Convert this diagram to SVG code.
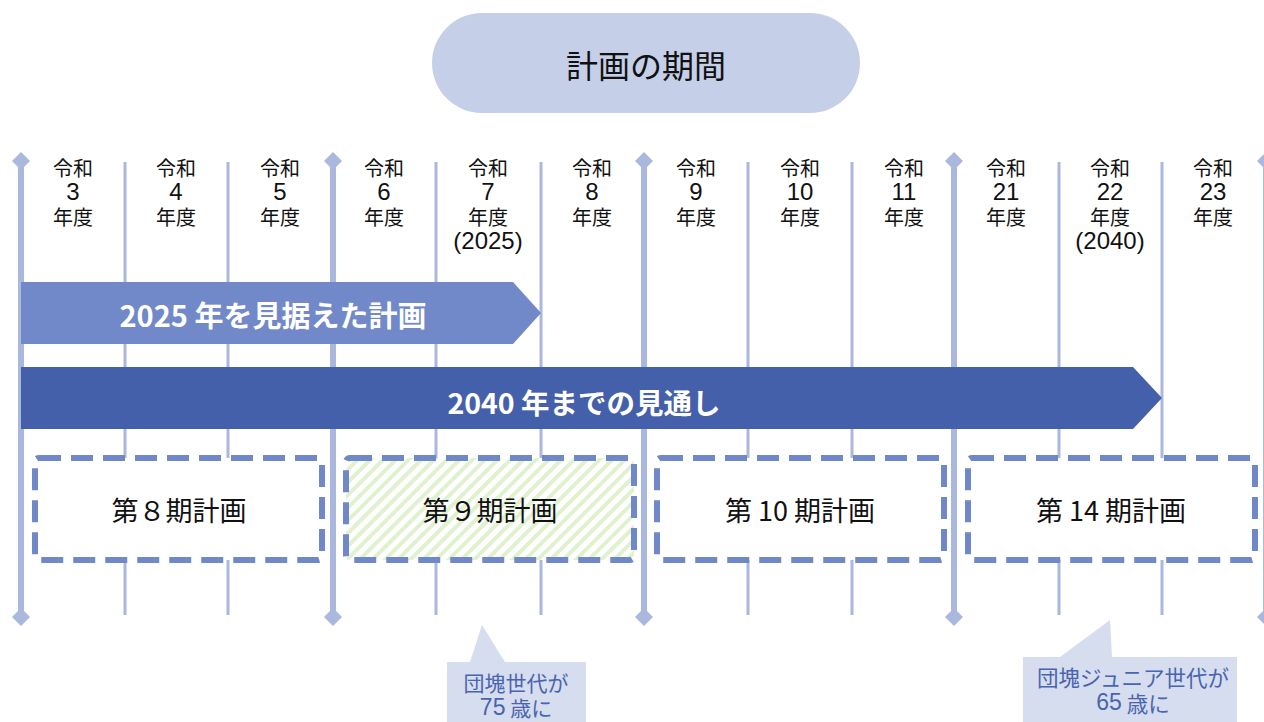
<svg xmlns="http://www.w3.org/2000/svg" width="1264" height="722" viewBox="0 0 1264 722">
<style>
  text { font-family: "Noto Sans CJK JP", "Noto Sans", sans-serif; dominant-baseline: central; text-anchor: middle; }
  .yr { font-size: 20px; fill: #111; }
  .num { font-family: "Liberation Sans", Arial, sans-serif; font-size: 24px; }
  .bar { font-weight: bold; fill: #fff; }
  .plan { font-size: 27px; fill: #111; }
  .call { font-size: 21px; fill: #4a64b0; }
  .cnum { font-family: "Liberation Sans", Arial, sans-serif; font-size: 23px; }
  .thick { stroke: #aab8de; stroke-width: 6; }
  .thin { stroke: #aab8de; stroke-width: 3; }
  .dia { fill: #aab8de; }
  .dash { fill: #fff; stroke: #7088c8; stroke-width: 6; stroke-dasharray: 22 10; }
</style>
<defs>
  <pattern id="hatch" patternUnits="userSpaceOnUse" width="9" height="9" patternTransform="rotate(45)">
    <rect width="9" height="9" fill="#fff"/>
    <rect width="4" height="9" fill="#e0f1cf"/>
  </pattern>
</defs>
<rect width="1264" height="722" fill="#fff"/>

<g id="title">
  <rect x="432" y="13" width="428" height="100" rx="50" fill="#c5cfe8"/>
  <text x="646" y="64" style="font-size:32px;fill:#111">計画の期間</text>
</g>

<g id="connectors">
  <line class="thin" x1="125" y1="162" x2="125" y2="615"/>
  <line class="thin" x1="228" y1="162" x2="228" y2="615"/>
  <line class="thin" x1="436" y1="162" x2="436" y2="615"/>
  <line class="thin" x1="541" y1="162" x2="541" y2="615"/>
  <line class="thin" x1="748" y1="162" x2="748" y2="615"/>
  <line class="thin" x1="852" y1="162" x2="852" y2="615"/>
  <line class="thin" x1="1059" y1="162" x2="1059" y2="615"/>
  <line class="thin" x1="1162" y1="162" x2="1162" y2="615"/>
  <line class="thick" x1="21" y1="160" x2="21" y2="617"/>
  <line class="thick" x1="333" y1="160" x2="333" y2="617"/>
  <line class="thick" x1="644" y1="160" x2="644" y2="617"/>
  <line class="thick" x1="954" y1="160" x2="954" y2="617"/>
  <line class="thick" x1="1266" y1="160" x2="1266" y2="617"/>
  <polygon class="dia" points="21,152 30,161 21,170 12,161"/>
  <polygon class="dia" points="333,152 342,161 333,170 324,161"/>
  <polygon class="dia" points="644,152 653,161 644,170 635,161"/>
  <polygon class="dia" points="954,152 963,161 954,170 945,161"/>
  <polygon class="dia" points="1266,152 1275,161 1266,170 1257,161"/>
  <polygon class="dia" points="21,608 30,617 21,626 12,617"/>
  <polygon class="dia" points="333,608 342,617 333,626 324,617"/>
  <polygon class="dia" points="644,608 653,617 644,626 635,617"/>
  <polygon class="dia" points="954,608 963,617 954,626 945,617"/>
  <polygon class="dia" points="1266,608 1275,617 1266,626 1257,617"/>
</g>

<g id="years" class="yr">
  <text x="73" y="167">令和<tspan class="num" x="73" dy="24">3</tspan><tspan x="73" dy="25">年度</tspan></text>
  <text x="176" y="167">令和<tspan class="num" x="176" dy="24">4</tspan><tspan x="176" dy="25">年度</tspan></text>
  <text x="280" y="167">令和<tspan class="num" x="280" dy="24">5</tspan><tspan x="280" dy="25">年度</tspan></text>
  <text x="384" y="167">令和<tspan class="num" x="384" dy="24">6</tspan><tspan x="384" dy="25">年度</tspan></text>
  <text x="488" y="167">令和<tspan class="num" x="488" dy="24">7</tspan><tspan x="488" dy="25">年度</tspan><tspan class="num" x="488" dy="24">(2025)</tspan></text>
  <text x="592" y="167">令和<tspan class="num" x="592" dy="24">8</tspan><tspan x="592" dy="25">年度</tspan></text>
  <text x="696" y="167">令和<tspan class="num" x="696" dy="24">9</tspan><tspan x="696" dy="25">年度</tspan></text>
  <text x="800" y="167">令和<tspan class="num" x="800" dy="24">10</tspan><tspan x="800" dy="25">年度</tspan></text>
  <text x="904" y="167">令和<tspan class="num" x="904" dy="24">11</tspan><tspan x="904" dy="25">年度</tspan></text>
  <text x="1006" y="167">令和<tspan class="num" x="1006" dy="24">21</tspan><tspan x="1006" dy="25">年度</tspan></text>
  <text x="1110" y="167">令和<tspan class="num" x="1110" dy="24">22</tspan><tspan x="1110" dy="25">年度</tspan><tspan class="num" x="1110" dy="24">(2040)</tspan></text>
  <text x="1213" y="167">令和<tspan class="num" x="1213" dy="24">23</tspan><tspan x="1213" dy="25">年度</tspan></text>
</g>

<g id="bar2025">
  <polygon points="21,282 513,282 541,313 513,344 21,344" fill="#7189c8"/>
  <text class="bar" x="273" y="314" style="font-size:29px">2025 年を見据えた計画</text>
</g>

<g id="bar2040">
  <polygon points="21,367 1133,367 1162,398 1133,429 21,429" fill="#4560aa"/>
  <text class="bar" x="584" y="401" style="font-size:28.5px">2040 年までの見通し</text>
</g>

<g id="plan8">
  <rect class="dash" x="35" y="458" width="287" height="102" rx="4"/>
  <text class="plan" x="179" y="509">第８期計画</text>
</g>
<g id="plan9">
  <rect class="dash" x="346" y="458" width="288" height="102" rx="4" style="fill:url(#hatch)"/>
  <text class="plan" x="490" y="509">第９期計画</text>
</g>
<g id="plan10">
  <rect class="dash" x="657" y="458" width="287" height="102" rx="4"/>
  <text class="plan" x="800" y="509">第 10 期計画</text>
</g>
<g id="plan14">
  <rect class="dash" x="968" y="458" width="287" height="102" rx="4"/>
  <text class="plan" x="1111" y="509">第 14 期計画</text>
</g>

<g id="callout75">
  <polygon points="447,662 470,662 482,625 505,662 586,662 586,722 447,722" fill="#d5ddef"/>
  <text class="call" x="516" y="682">団塊世代が<tspan x="516" dy="25"><tspan class="cnum">75</tspan> 歳に</tspan></text>
</g>
<g id="callout65">
  <polygon points="1023,657 1060,657 1110,620 1112,657 1237,657 1237,722 1023,722" fill="#d5ddef"/>
  <text class="call" x="1133" y="676" style="font-size:21.5px">団塊ジュニア世代が<tspan x="1133" dy="26"><tspan class="cnum">65</tspan> 歳に</tspan></text>
</g>
</svg>
